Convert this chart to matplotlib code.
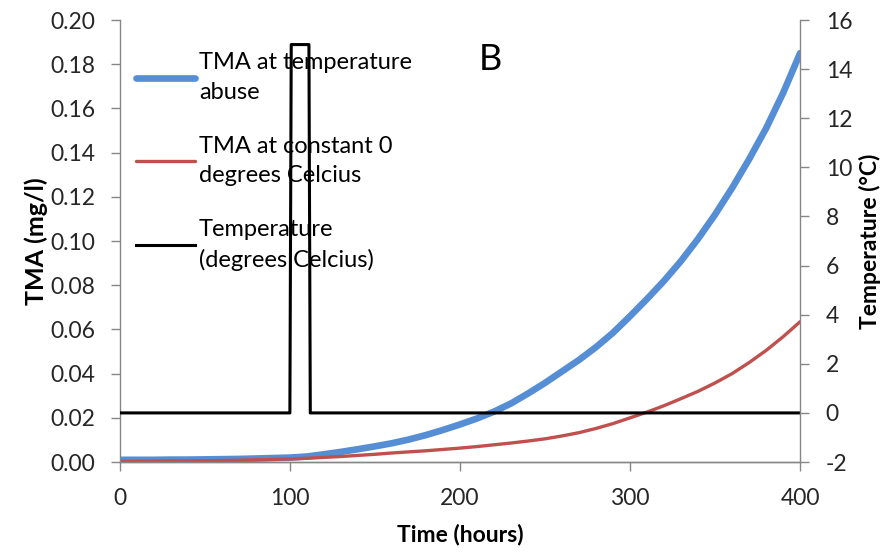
import matplotlib
matplotlib.use("Agg")
import matplotlib.pyplot as plt

# hand-read values from the reference
hours = list(range(0, 401, 10))
tma_abuse = [0.001, 0.001, 0.001, 0.0011, 0.0011, 0.0012, 0.0013, 0.0014, 0.0016, 0.0018, 0.002,
             0.0025, 0.0035, 0.0046, 0.0058, 0.0071, 0.0085, 0.0102, 0.0122, 0.0145, 0.017,
             0.0197, 0.0228, 0.0265, 0.031, 0.0358, 0.041, 0.0462, 0.052, 0.0585, 0.066,
             0.0738, 0.082, 0.091, 0.101, 0.112, 0.124, 0.137, 0.151, 0.167, 0.185]
tma_const = [0.0003, 0.0003, 0.0004, 0.0005, 0.0005, 0.0006, 0.0007, 0.0008, 0.001, 0.0012, 0.0014,
             0.0017, 0.0021, 0.0025, 0.003, 0.0035, 0.0041, 0.0046, 0.0051, 0.0057, 0.0063,
             0.007, 0.0078, 0.0086, 0.0095, 0.0105, 0.0118, 0.0133, 0.0152, 0.0174, 0.020,
             0.0226, 0.0255, 0.0287, 0.032, 0.0358, 0.040, 0.045, 0.0505, 0.0567, 0.0635]

temp_hours = [0, 100, 100.8, 111.2, 112, 400]
temp_vals = [0, 0, 15, 15, 0, 0]

plt.rcParams['font.family'] = ['Lato', 'DejaVu Sans']
plt.rcParams['axes.unicode_minus'] = False
grey = '#868686'

fig = plt.figure(figsize=(8.94, 5.56), dpi=100)
ax = fig.add_axes([0.134, 0.169, 0.761, 0.795])
ax2 = ax.twinx()

l1, = ax.plot(hours, tma_abuse, color='#558ED5', lw=4.8, solid_capstyle='round',
              label='TMA at temperature\nabuse')
l2, = ax.plot(hours, tma_const, color='#C0504D', lw=2.4, solid_capstyle='round',
              label='TMA at constant 0\ndegrees Celcius')
l3, = ax2.plot(temp_hours, temp_vals, color='black', lw=2.2,
               label='Temperature\n(degrees Celcius)')

ax.set_xlim(0, 400)
ax.set_ylim(0, 0.20)
ax2.set_ylim(-2, 16)
ax.set_xticks([0, 100, 200, 300, 400])
ax.set_yticks([i * 0.02 for i in range(11)])
ax.set_yticklabels(['%.2f' % (i * 0.02) for i in range(11)])
ax2.set_yticks(list(range(-2, 17, 2)))

for a in (ax, ax2):
    a.spines['top'].set_visible(False)
    for s in ('left', 'right', 'bottom'):
        a.spines[s].set_color(grey)
        a.spines[s].set_linewidth(1.0)
    a.tick_params(colors='#262626', labelsize=16.5, length=6.5, width=1.0, color=grey)
ax.tick_params(axis='x', pad=12)
ax.tick_params(axis='y', pad=11)
ax2.tick_params(axis='y', pad=12)
ax2.spines['left'].set_visible(False)
ax.spines['right'].set_visible(False)

ax.set_xlabel('Time (hours)', fontsize=16.5, fontweight='bold', labelpad=11)
ax.set_ylabel('TMA (mg/l)', fontsize=18, fontweight='bold', labelpad=2)
ax2.set_ylabel('Temperature (°C)', fontsize=16.5, fontweight='bold', labelpad=5)

leg = ax.legend(handles=[l1, l2, l3], loc='upper left', bbox_to_anchor=(0.0, 0.965),
                frameon=False, fontsize=17, handlelength=2.5, labelspacing=1.4,
                handletextpad=0.15, borderaxespad=0.3)
for t in leg.get_texts():
    t.set_linespacing(1.5)

ax.text(0.545, 0.91, 'B', transform=ax.transAxes, fontsize=26, ha='center', va='center')

fig.savefig('out.png', dpi=100)
